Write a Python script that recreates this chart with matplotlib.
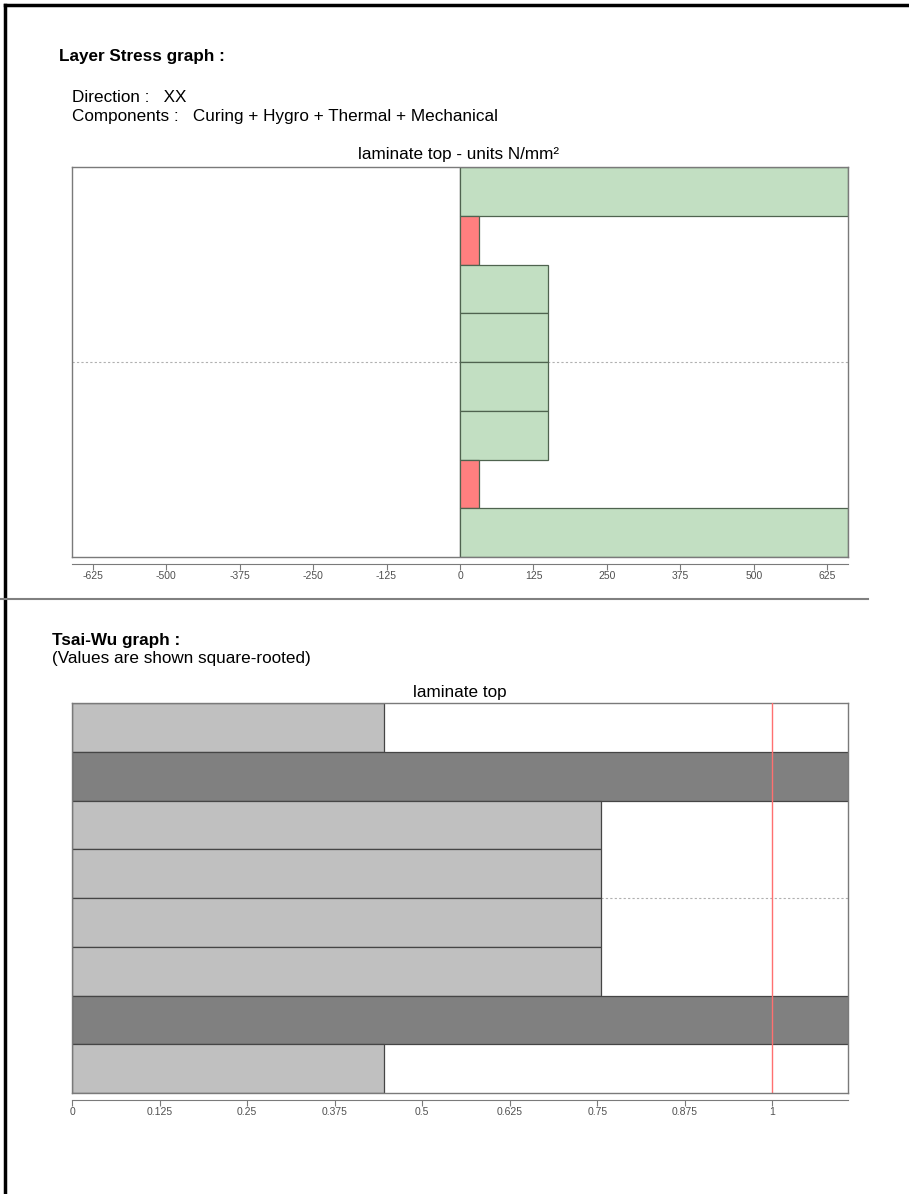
import matplotlib
matplotlib.use("Agg")
import matplotlib.pyplot as plt
from matplotlib.lines import Line2D

plt.rcParams['font.family'] = ['Liberation Sans', 'DejaVu Sans']

# layer stack, top ply first
stress_xx = [660, 32, 150, 150, 150, 150, 32, 660]          # N/mm2
stress_colors = ['#c2dfc2', '#ff7f7f', '#c2dfc2', '#c2dfc2',
                 '#c2dfc2', '#c2dfc2', '#ff7f7f', '#c2dfc2']
stress_ticks = [-625, -500, -375, -250, -125, 0, 125, 250, 375, 500, 625]

tsai_wu = [0.445, 1.25, 0.755, 0.755, 0.755, 0.755, 1.25, 0.445]   # sqrt of index
tsai_ticks = [0, 0.125, 0.25, 0.375, 0.5, 0.625, 0.75, 0.875, 1]
tsai_labels = ['0', '0.125', '0.25', '0.375', '0.5', '0.625', '0.75', '0.875', '1']

W, H = 909, 1194
TXT = 12.3
fig = plt.figure(figsize=(W / 100, H / 100), dpi=100)
fig.patch.set_facecolor('white')


def px(x, y):
    return x / W, 1 - y / H


def ftext(x, y, s, **kw):
    fx, fy = px(x, y)
    fig.text(fx, fy, s, va='center', ha=kw.pop('ha', 'left'), **kw)


def layer_axes(top, bottom):
    l, b = px(72, bottom)
    ax = fig.add_axes([l, b, (848 - 72) / W, (bottom - top) / H])
    ax.set_ylim(len(stress_xx) - 0.5, -0.5)
    ax.set_yticks([])
    for s in ('top', 'left', 'right'):
        ax.spines[s].set_color('#7a7a7a')
        ax.spines[s].set_linewidth(1.0)
    # axis line sits a little below the plot box
    ax.spines['bottom'].set_position(('outward', 5))
    ax.spines['bottom'].set_color('#7a7a7a')
    ax.add_line(Line2D([0, 1], [0, 0], transform=ax.transAxes, color='#7a7a7a',
                       lw=1.0, clip_on=False, zorder=5))
    ax.tick_params(axis='x', length=4, width=0.8, color='#7a7a7a',
                   labelsize=7.5, labelcolor='#505050', pad=1)
    ax.axhline((len(stress_xx) - 1) / 2, color='#b0b0b0', lw=0.8,
               ls=(0, (2, 2)), zorder=0)
    return ax


# outer frame of the report page
fig.add_artist(Line2D([5 / W, 5 / W], [0, 1 - 5 / H], color='black', lw=2.5))
fig.add_artist(Line2D([5 / W, 1], [1 - 5 / H, 1 - 5 / H], color='black', lw=2.5))
fig.add_artist(Line2D([0, 868 / W], [1 - 599 / H, 1 - 599 / H], color='#808080', lw=1.5))

# ---- layer stress graph ----
ftext(59, 57, 'Layer Stress graph :', fontsize=TXT, fontweight='bold')
ftext(72, 97, 'Direction :   XX', fontsize=TXT)
ftext(72, 116, 'Components :   Curing + Hygro + Thermal + Mechanical', fontsize=TXT)
ftext(459, 155, 'laminate top - units N/mm²', fontsize=TXT, ha='center')

ax1 = layer_axes(167, 557)
ax1.barh(range(len(stress_xx)), stress_xx, height=1.0, color=stress_colors,
         edgecolor='#4f634f', linewidth=0.9, zorder=2)
ax1.axvline(0, color='#333333', lw=0.9, zorder=1)
ax1.set_xlim(-660, 660)
ax1.set_xticks(stress_ticks)
ax1.set_xticklabels([str(t) for t in stress_ticks])

# ---- Tsai-Wu graph ----
ftext(52, 641, 'Tsai-Wu graph :', fontsize=TXT, fontweight='bold')
ftext(52, 658, '(Values are shown square-rooted)', fontsize=TXT)
ftext(460, 692, 'laminate top', fontsize=TXT, ha='center')

ax2 = layer_axes(703, 1093)
tw_colors = ['#808080' if v >= 1 else '#c0c0c0' for v in tsai_wu]
ax2.barh(range(len(tsai_wu)), tsai_wu, height=1.0, color=tw_colors,
         edgecolor='#454545', linewidth=0.9, zorder=2)
ax2.axvline(1, color='#ff7070', lw=1.0, zorder=3)
ax2.set_xlim(0, 1.108)
ax2.set_xticks(tsai_ticks)
ax2.set_xticklabels(tsai_labels)

fig.savefig('out.png', dpi=100, facecolor='white')
